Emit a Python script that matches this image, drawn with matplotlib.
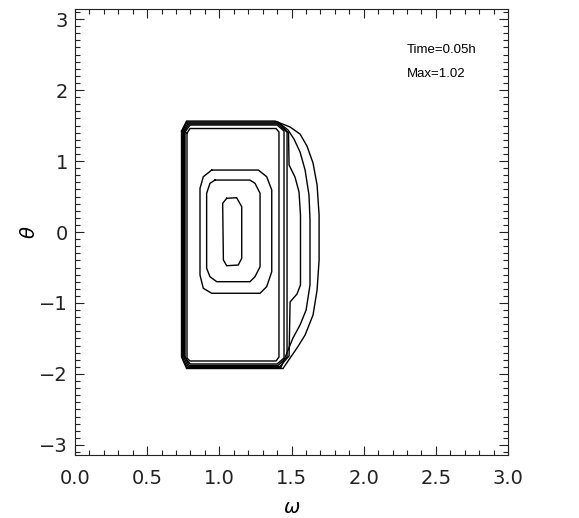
import numpy as np
import matplotlib
matplotlib.use("Agg")
import matplotlib.pyplot as plt
from matplotlib.ticker import MultipleLocator

# contour paths of the density in (omega, theta), outermost level first
lev1_w = [0.738, 0.773, 1.386, 1.490, 1.559, 1.607, 1.649, 1.677, 1.691, 1.691,
          1.677, 1.649, 1.594, 1.538, 1.490, 1.441, 0.773, 0.738, 0.738]
lev1_t = [1.423, 1.563, 1.563, 1.479, 1.380, 1.211, 0.972, 0.662, 0.239, -0.394,
          -0.817, -1.169, -1.451, -1.634, -1.775, -1.923, -1.923, -1.761, 1.423]

lev2_w = [0.745, 0.776, 1.406, 1.476, 1.517, 1.559, 1.594, 1.621, 1.628, 1.628,
          1.601, 1.559, 1.510, 1.476, 1.427, 0.776, 0.745, 0.745]
lev2_t = [1.423, 1.549, 1.549, 1.437, 1.310, 1.127, 0.873, 0.521, 0.169, -0.746,
          -1.099, -1.310, -1.493, -1.662, -1.908, -1.908, -1.761, 1.423]

lev3_w = [0.752, 0.783, 1.413, 1.479, 1.483, 1.524, 1.552, 1.562, 1.562, 1.538,
          1.490, 1.483, 1.420, 0.783, 0.752, 0.752]
lev3_t = [1.423, 1.535, 1.535, 1.394, 0.944, 0.775, 0.563, 0.239, -0.746, -0.873,
          -0.986, -1.746, -1.894, -1.894, -1.754, 1.423]

lev4_w = [0.759, 0.790, 1.406, 1.469, 1.469, 1.406, 0.790, 0.759, 0.759]
lev4_t = [1.423, 1.521, 1.521, 1.408, -1.761, -1.880, -1.880, -1.746, 1.423]

lev5_w = [0.762, 0.797, 1.400, 1.448, 1.448, 1.400, 0.797, 0.762, 0.762]
lev5_t = [1.408, 1.507, 1.507, 1.423, -1.775, -1.859, -1.859, -1.761, 1.408]

lev6_w = [0.776, 0.797, 1.393, 1.413, 1.413, 1.393, 0.797, 0.776, 0.776]
lev6_t = [1.394, 1.458, 1.458, 1.408, -1.761, -1.817, -1.817, -1.775, 1.394]

lev7_w = [0.947, 1.270, 1.328, 1.363, 1.363, 1.328, 1.282, 0.947, 0.889, 0.866,
          0.866, 0.889, 0.947]
lev7_t = [0.873, 0.873, 0.779, 0.592, -0.559, -0.770, -0.863, -0.863, -0.793,
          -0.606, 0.615, 0.779, 0.873]

lev8_w = [0.970, 1.212, 1.247, 1.282, 1.282, 1.247, 1.212, 0.982, 0.935, 0.912,
          0.912, 0.935, 0.970]
lev8_t = [0.732, 0.732, 0.686, 0.545, -0.489, -0.630, -0.700, -0.700, -0.630,
          -0.511, 0.545, 0.686, 0.732]

lev9_w = [1.051, 1.120, 1.155, 1.155, 1.131, 1.051, 1.028, 1.023, 1.051]
lev9_t = [0.475, 0.483, 0.356, -0.370, -0.465, -0.475, -0.394, 0.404, 0.475]

levels = [(lev1_w, lev1_t), (lev2_w, lev2_t), (lev3_w, lev3_t),
          (lev4_w, lev4_t), (lev5_w, lev5_t), (lev6_w, lev6_t),
          (lev7_w, lev7_t), (lev8_w, lev8_t), (lev9_w, lev9_t)]

time_h = 0.05
max_val = 1.02

fig = plt.figure(figsize=(5.79, 5.18), dpi=100)
ax = fig.add_axes([0.1295, 0.1216, 0.748, 0.861])

for w, t in levels:
    ax.plot(w, t, color="black", lw=1.0, solid_joinstyle="miter")

ax.set_xlim(0, 3.0)
ax.set_ylim(-np.pi, np.pi)
ax.xaxis.set_major_locator(MultipleLocator(0.5))
ax.xaxis.set_minor_locator(MultipleLocator(0.1))
ax.yaxis.set_major_locator(MultipleLocator(1))
ax.yaxis.set_minor_locator(MultipleLocator(0.1))
ax.xaxis.set_major_formatter(plt.FormatStrFormatter("%.1f"))
ax.tick_params(which="both", direction="in", top=True, right=True,
               width=0.8, colors="#222222", labelsize=14)
ax.tick_params(which="major", length=6.5)
ax.tick_params(which="minor", length=3.3)
ax.tick_params(axis="x", pad=10)
ax.tick_params(axis="y", pad=5)
for s in ax.spines.values():
    s.set_linewidth(0.8)
    s.set_color("#222222")

ax.set_xlabel(r"$\omega$", fontsize=14, labelpad=7)
ax.set_ylabel(r"$\theta$", fontsize=14, labelpad=0)

ax.text(2.30, 2.56, "Time=%.2fh" % time_h, fontsize=9.5,
        family="Liberation Sans", va="center")
ax.text(2.30, 2.23, "Max=%.2f" % max_val, fontsize=9.5,
        family="Liberation Sans", va="center")

fig.savefig("out.png", dpi=100)
